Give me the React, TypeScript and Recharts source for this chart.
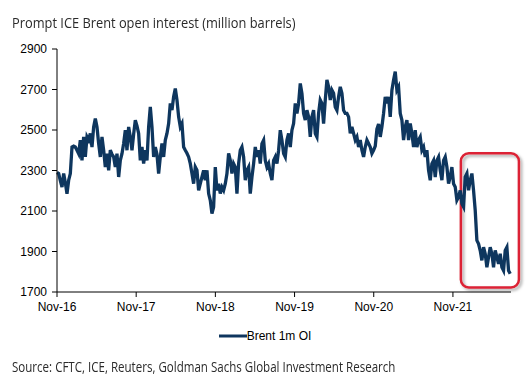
import React from 'react';
import { LineChart, Line, XAxis, YAxis, Legend, ReferenceArea } from 'recharts';

// Prompt ICE Brent open interest (million barrels), ~weekly observations
const STEP_MONTHS = 0.2525; // months between observations, starting Nov-16

const oiNov16toOct17 = [
  2290, 2285, 2250, 2218, 2285, 2240, 2185, 2252, 2285, 2416, 2420, 2416, 2400, 2383, 2450, 2350,
  2466, 2367, 2466, 2450, 2483, 2416, 2515, 2557, 2515, 2433, 2367, 2466, 2400, 2317, 2383, 2301,
  2400, 2380, 2367, 2317, 2383, 2268, 2350, 2383, 2433, 2499, 2400, 2515, 2466, 2400, 2480,
];
const oiNov17toOct18 = [
  2548, 2520, 2483, 2350, 2416, 2334, 2400, 2350, 2515, 2614, 2515, 2367, 2416, 2380, 2285, 2367,
  2433, 2367, 2450, 2483, 2532, 2631, 2598, 2664, 2705, 2648, 2565, 2515, 2532, 2416, 2400, 2385,
  2367, 2334, 2285, 2235, 2317, 2301, 2202, 2235, 2268, 2301, 2252, 2301, 2186, 2153, 2087, 2120,
];
const oiNov18toOct19 = [
  2317, 2202, 2235, 2186, 2218, 2202, 2235, 2285, 2384, 2350, 2285, 2334, 2317, 2186, 2334, 2400,
  2416, 2367, 2252, 2301, 2317, 2186, 2268, 2334, 2416, 2367, 2400, 2334, 2433, 2450, 2350, 2317,
  2334, 2285, 2252, 2350, 2367, 2334, 2400, 2499, 2450, 2384, 2367, 2450, 2483, 2416, 2499, 2532,
];
const oiNov19toOct20 = [
  2631, 2582, 2631, 2730, 2681, 2582, 2549, 2598, 2565, 2466, 2565, 2598, 2483, 2466, 2582, 2648,
  2631, 2532, 2648, 2747, 2713, 2648, 2697, 2681, 2614, 2598, 2664, 2713, 2681, 2598, 2582, 2582,
  2565, 2483, 2515, 2483, 2450, 2466, 2416, 2450, 2400, 2367, 2416, 2450, 2433, 2416, 2384, 2400,
];
const oiNov20toSep21 = [
  2420, 2505, 2530, 2466, 2516, 2582, 2664, 2631, 2664, 2565, 2697, 2747, 2788, 2697, 2713, 2582,
  2549, 2450, 2516, 2549, 2450, 2532, 2483, 2416, 2499, 2416, 2450, 2466, 2400, 2416, 2367, 2400,
  2301, 2252, 2334, 2350, 2268, 2350, 2367, 2301, 2252, 2350, 2367, 2317, 2235,
];
const oiOct21toJul22 = [
  2268, 2317, 2235, 2219, 2153, 2169, 2202, 2136, 2120, 2268, 2285, 2202, 2252, 2285, 2202, 2103,
  1955, 1938, 1905, 1856, 1921, 1889, 1822, 1872, 1921, 1889, 1822, 1905, 1872, 1839, 1889, 1822,
  1806, 1905, 1921, 1806, 1790,
];

const xTicks = [0, 12, 24, 36, 48, 60];
const xTickLabels = ['Nov-16', 'Nov-17', 'Nov-18', 'Nov-19', 'Nov-20', 'Nov-21'];
const yTicks = [1700, 1900, 2100, 2300, 2500, 2700, 2900];
const seriesName = 'Brent 1m OI';

// highlighted recent period (months since Nov-16, million barrels)
const highlightMonths = [61.2, 70.0];
const highlightValues = [1722, 2385];

const allValues = [
  ...oiNov16toOct17,
  ...oiNov17toOct18,
  ...oiNov18toOct19,
  ...oiNov19toOct20,
  ...oiNov20toSep21,
  ...oiOct21toJul22,
];
const data = allValues.map((v, i) => ({ m: i * STEP_MONTHS, oi: v }));

const NAVY = '#0e365e';
const RED = '#dc2234';
const axisFont = "'Liberation Sans', Arial, sans-serif";
const textFont = "'Open Sans', sans-serif";

const HighlightShape = (props: any) => {
  const { x, y, width, height } = props;
  return (
    <g>
      <defs>
        <filter id="boxShadow" x="-20%" y="-20%" width="140%" height="140%">
          <feDropShadow dx="2" dy="2" stdDeviation="1.5" floodColor="#000" floodOpacity="0.35" />
        </filter>
      </defs>
      <rect
        x={x}
        y={y}
        width={width}
        height={height}
        rx={8}
        ry={8}
        fill="none"
        stroke={RED}
        strokeWidth={2.5}
        filter="url(#boxShadow)"
      />
    </g>
  );
};

const LegendContent = () => (
  <div
    style={{
      height: 24,
      display: 'flex',
      alignItems: 'center',
      justifyContent: 'center',
      fontFamily: axisFont,
      fontSize: 12,
      color: '#000',
    }}
  >
    <svg width={28} height={6} style={{ display: 'block' }}>
      <line x1={0} y1={3} x2={28} y2={3} stroke={NAVY} strokeWidth={3} />
    </svg>
    <span>{seriesName}</span>
  </div>
);

export default function App() {
  return (
    <div
      style={{
        position: 'absolute',
        left: 0,
        top: 0,
        width: 530,
        height: 385,
        background: '#fff',
        overflow: 'hidden',
      }}
    >
      <div
        style={{
          position: 'absolute',
          left: 12,
          top: 15,
          fontFamily: textFont,
          fontSize: 15,
          lineHeight: '15px',
          color: '#2a2a2a',
          whiteSpace: 'nowrap',
          transform: 'scaleX(0.855)',
          transformOrigin: 'left top',
        }}
      >
        Prompt ICE Brent open interest (million barrels)
      </div>
      <div style={{ position: 'absolute', left: 0, top: 0 }}>
        <LineChart
          width={530}
          height={344}
          data={data}
          margin={{ top: 49, right: 19, left: 0, bottom: 0 }}
        >
          <XAxis
            dataKey="m"
            type="number"
            domain={[0, 68.8]}
            ticks={xTicks}
            tickFormatter={(v: number) => xTickLabels[xTicks.indexOf(v)] ?? ''}
            axisLine={{ stroke: '#000', strokeWidth: 1 }}
            tickLine={{ stroke: '#000' }}
            tickSize={5}
            tickMargin={5}
            height={28}
            tick={{ fill: '#000', fontSize: 12, fontFamily: axisFont }}
            interval={0}
          />
          <YAxis
            type="number"
            domain={[1700, 2900]}
            ticks={yTicks}
            axisLine={{ stroke: '#000', strokeWidth: 1 }}
            tickLine={{ stroke: '#000' }}
            tickSize={5}
            tickMargin={5}
            width={57}
            tick={{ fill: '#000', fontSize: 12, fontFamily: axisFont }}
            interval={0}
          />
          <Legend
            verticalAlign="bottom"
            content={<LegendContent />}
            wrapperStyle={{ left: 0, width: 530, bottom: -4 }}
          />
          <Line
            type="linear"
            dataKey="oi"
            name={seriesName}
            stroke={NAVY}
            strokeWidth={3.3}
            dot={false}
            isAnimationActive={false}
          />
          <ReferenceArea
            x1={highlightMonths[0]}
            x2={highlightMonths[1]}
            y1={highlightValues[0]}
            y2={highlightValues[1]}
            ifOverflow="visible"
            shape={HighlightShape}
          />
        </LineChart>
      </div>
      <div
        style={{
          position: 'absolute',
          left: 12,
          top: 360,
          fontFamily: textFont,
          fontSize: 14,
          lineHeight: '14px',
          color: '#2a2a2a',
          whiteSpace: 'nowrap',
          transform: 'scaleX(0.825)',
          transformOrigin: 'left top',
        }}
      >
        Source: CFTC, ICE, Reuters, Goldman Sachs Global Investment Research
      </div>
    </div>
  );
}
